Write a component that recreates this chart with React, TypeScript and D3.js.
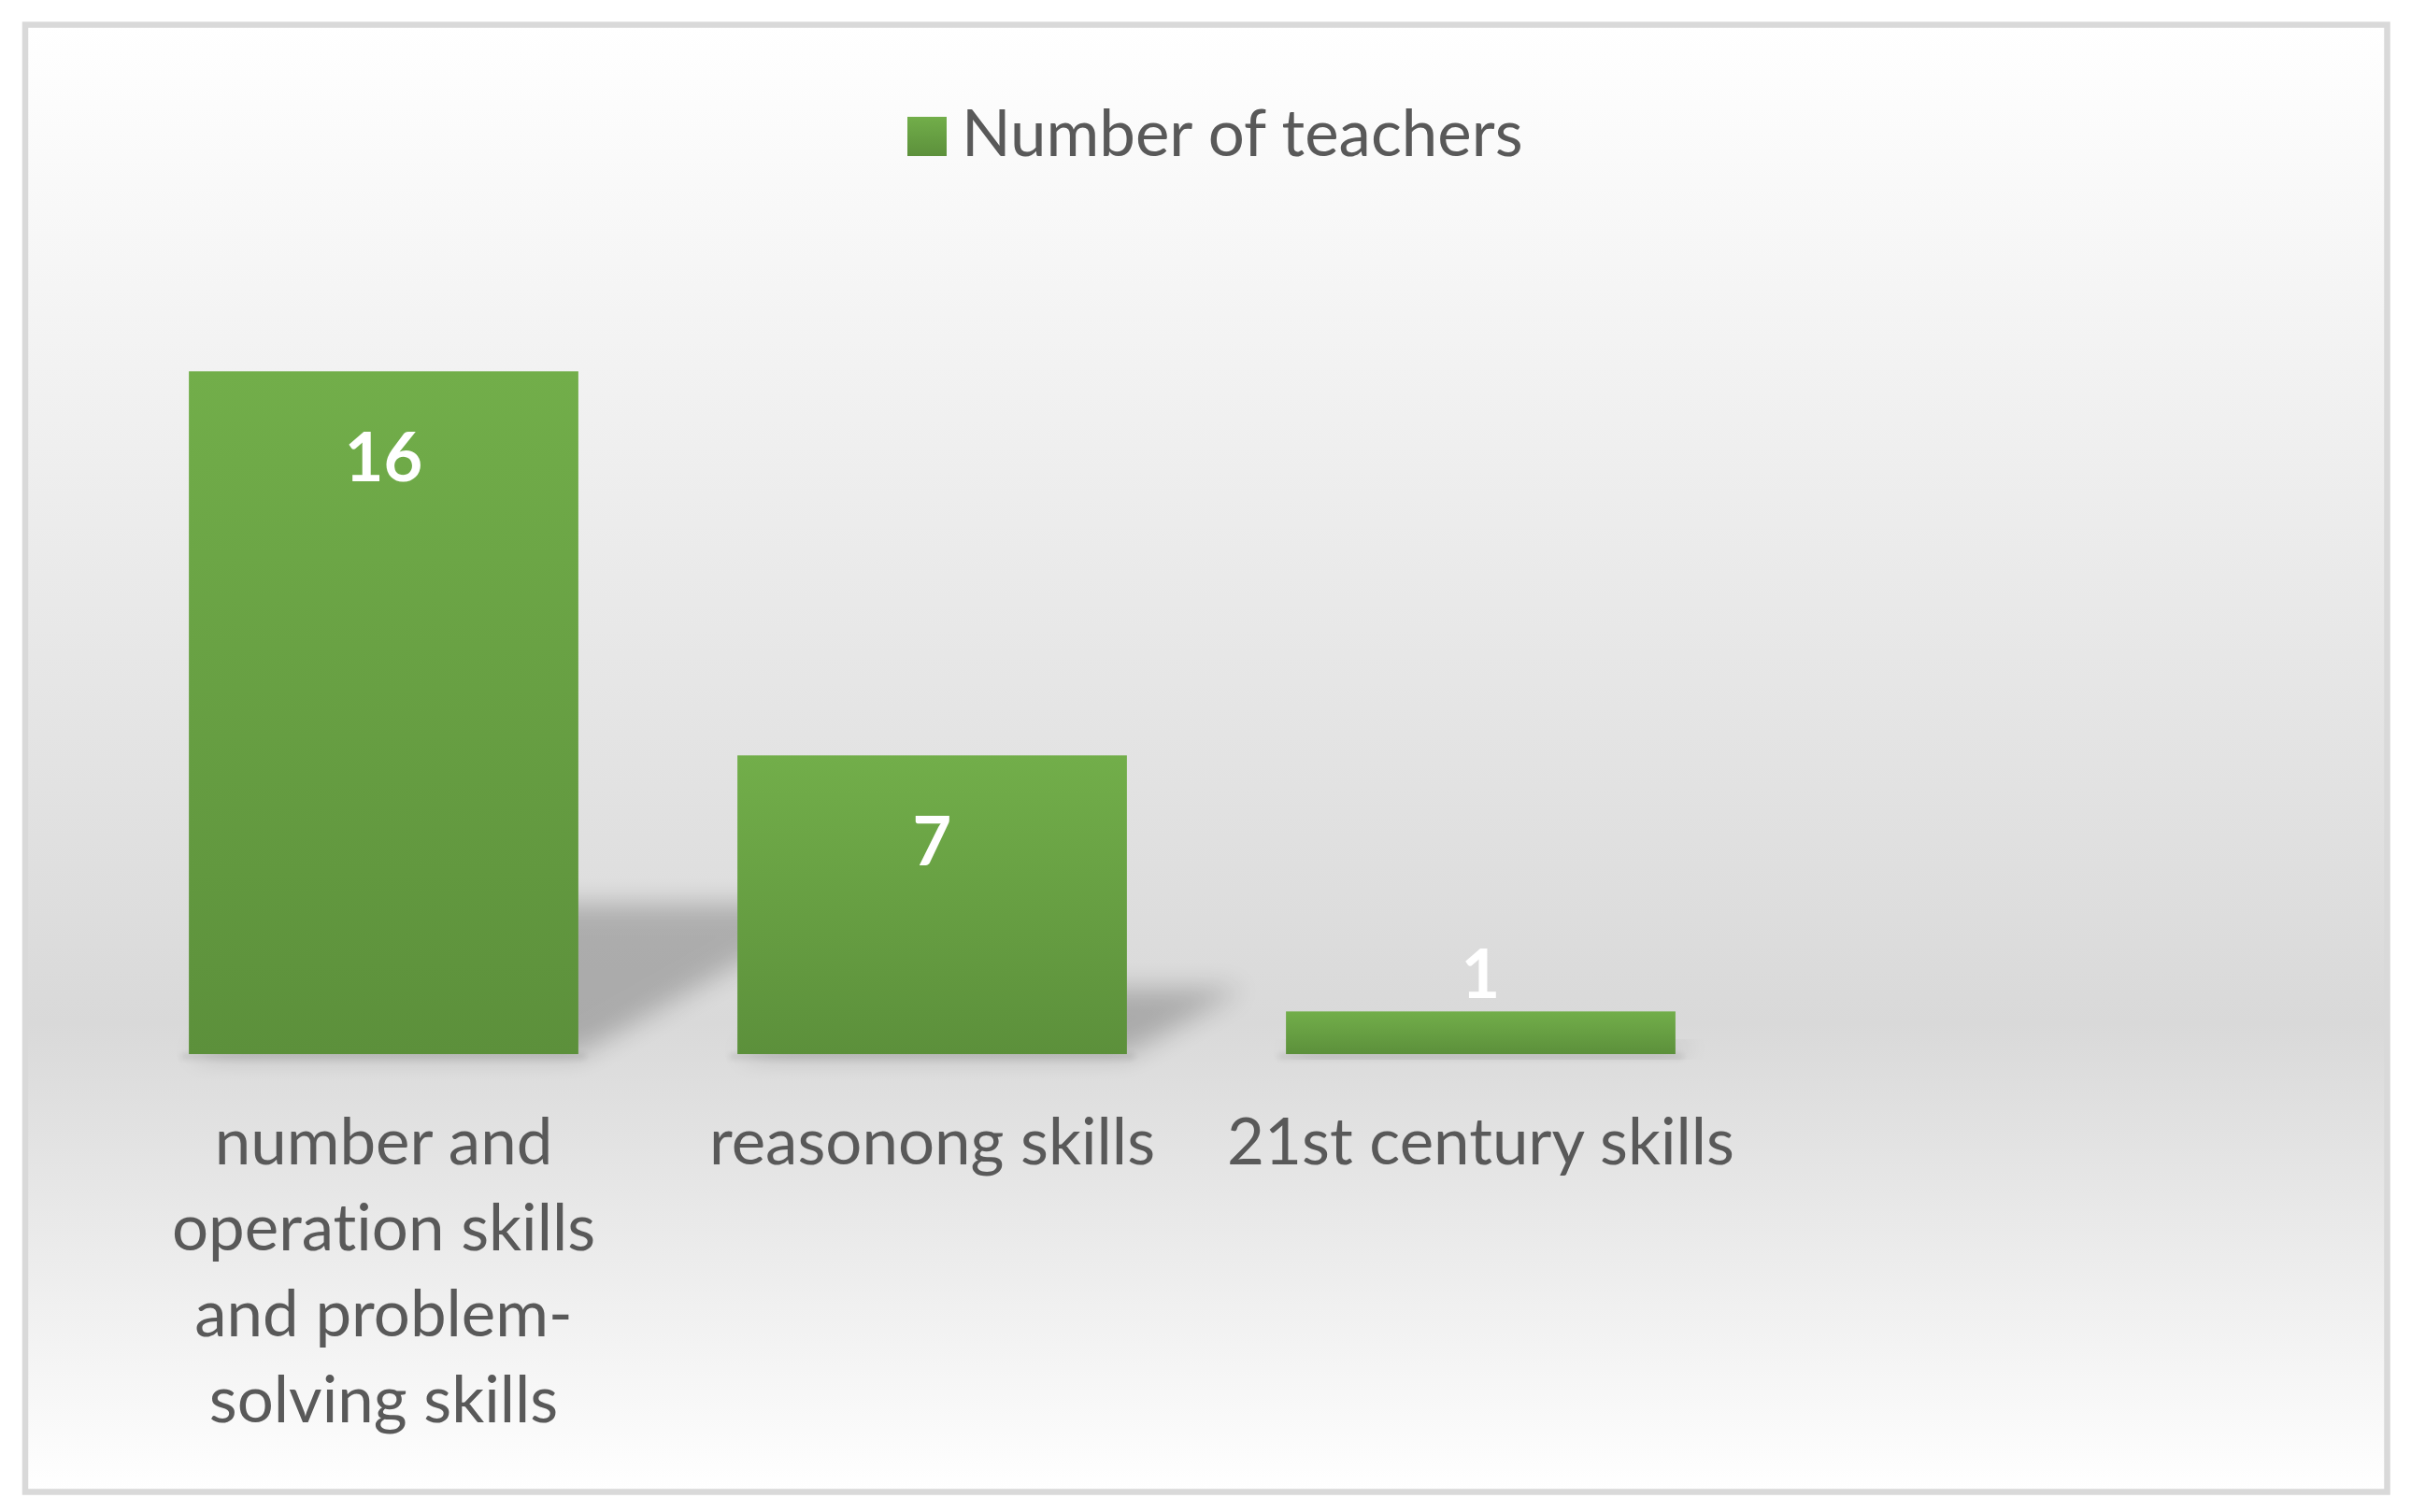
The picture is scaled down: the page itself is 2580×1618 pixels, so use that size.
import React from "react";
import * as d3 from "d3";

// data
const categories = [
  "number and operation skills and problem-solving skills",
  "reasonong skills",
  "21st century skills",
];
const tickLines = [
  ["number and", "operation skills", "and problem-", "solving skills"],
  ["reasonong skills"],
  ["21st century skills"],
];
const teachers = [16, 7, 1];
const seriesName = "Number of teachers";

const W = 2580;
const H = 1618;
const baseY = 1128;
const plotTop = 306;
const yMax = 18;
const font = "Lato, 'Open Sans', sans-serif";
const textColor = "#595959";
const noLig = { fontVariantLigatures: "none", fontFeatureSettings: "'liga' 0" } as React.CSSProperties;

export default function App() {
  const x = d3
    .scaleBand<string>()
    .domain(categories)
    .range([117, 1878])
    .paddingInner(0.29)
    .paddingOuter(0.145);
  const y = d3.scaleLinear().domain([0, yMax]).range([baseY, plotTop]);

  // perspective shadow (diagonal upper right)
  const skewK = 0.39;
  const squashS = 0.22;
  const shadowPath = (x0: number, x1: number, h: number) => {
    const p = d3.path();
    p.moveTo(x0, baseY);
    p.lineTo(x1, baseY);
    p.lineTo(x1 + skewK * h, baseY - squashS * h);
    p.lineTo(x0 + skewK * h, baseY - squashS * h);
    p.closePath();
    return p.toString();
  };

  return (
    <svg
      width={W}
      height={H}
      style={{ position: "absolute", left: 0, top: 0, background: "#fff" }}
    >
      <defs>
        <linearGradient id="bg" x1="0" y1="0" x2="0" y2="1">
          <stop offset="0" stopColor="#ffffff" />
          <stop offset="0.68" stopColor="#d9d9d9" />
          <stop offset="1" stopColor="#ffffff" />
        </linearGradient>
        <linearGradient id="barFill" x1="0" y1="0" x2="0" y2="1">
          <stop offset="0" stopColor="#72ae4a" />
          <stop offset="1" stopColor="#5c903b" />
        </linearGradient>
        <filter id="blur" x="-50%" y="-50%" width="200%" height="200%">
          <feGaussianBlur stdDeviation="14" />
        </filter>
        <filter id="blurSmall" x="-20%" y="-200%" width="140%" height="500%">
          <feGaussianBlur stdDeviation="3" />
        </filter>
      </defs>

      <rect
        x={27}
        y={26.5}
        width={2527.5}
        height={1570}
        fill="url(#bg)"
        stroke="#d9d9d9"
        strokeWidth={6.5}
      />

      {/* shadows */}
      {categories.map((c, i) => {
        const x0 = x(c)!;
        const x1 = x0 + x.bandwidth();
        const h = baseY - y(teachers[i]);
        return (
          <g key={"sh" + c}>
            <path
              d={shadowPath(x0, x1, h)}
              fill="#000"
              opacity={0.21}
              filter="url(#blur)"
            />
            <rect
              x={x0 - 8}
              y={baseY}
              width={x1 - x0 + 16}
              height={5}
              fill="#000"
              opacity={0.1}
              filter="url(#blurSmall)"
            />
          </g>
        );
      })}

      {/* bars */}
      {categories.map((c, i) => (
        <rect
          key={"bar" + c}
          x={x(c)}
          y={y(teachers[i])}
          width={x.bandwidth()}
          height={baseY - y(teachers[i])}
          fill="url(#barFill)"
        />
      ))}

      {/* value labels */}
      {categories.map((c, i) => {
        const top = y(teachers[i]);
        const h = baseY - top;
        const ly = h > 130 ? top + 118 : top - 14;
        return (
          <text
            key={"val" + c}
            x={x(c)! + x.bandwidth() / 2}
            y={ly}
            textAnchor="middle"
            fontFamily={font}
            fontWeight="bold"
            fontSize={72}
            fill="#ffffff"
            style={noLig}
          >
            {teachers[i]}
          </text>
        );
      })}

      {/* category labels */}
      {categories.map((c, i) => (
        <text
          key={"cat" + c}
          x={x(c)! + x.bandwidth() / 2}
          y={1246}
          textAnchor="middle"
          fontFamily={font}
          fontSize={69}
          fill={textColor}
          style={noLig}
        >
          {tickLines[i].map((line, j) => (
            <tspan key={j} x={x(c)! + x.bandwidth() / 2} dy={j === 0 ? 0 : 92}>
              {line}
            </tspan>
          ))}
        </text>
      ))}

      {/* legend */}
      <g>
        <rect x={971} y={125} width={42} height={42} fill="url(#barFill)" />
        <text
          x={1029}
          y={167}
          fontFamily={font}
          fontSize={69}
          fill={textColor}
          style={noLig}
        >
          {seriesName}
        </text>
      </g>
    </svg>
  );
}
